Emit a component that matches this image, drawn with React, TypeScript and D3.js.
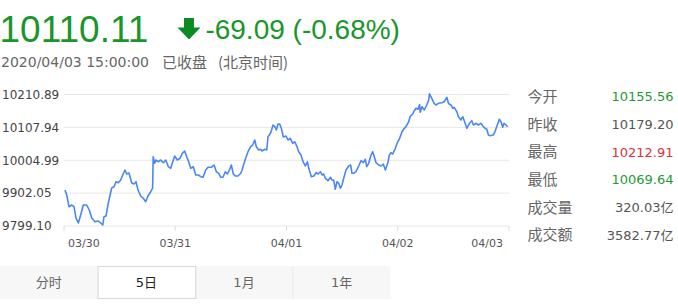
import React from "react";
import * as d3 from "d3";

// Intraday samples per session: [minute into session (0-240), index level]
const day0330: [number, number][] = [
  [2.7, 9911.8], [7.3, 9896.2], [13.5, 9859.5], [20.8, 9864.8], [27, 9859.5],
  [32.4, 9824.1], [38.6, 9808.5], [45, 9833.5], [52, 9864.8], [61.2, 9864.8],
  [68.2, 9849.2], [74.7, 9824.1], [83.6, 9812.6], [92.5, 9814.7], [99, 9808.5],
  [104.4, 9802.2], [107.9, 9828.2], [113.3, 9830.4], [119.5, 9871.1], [128.6, 9918.1],
  [134.9, 9922.2], [140.2, 9937.8], [146.4, 9934.7], [152.9, 9943.1], [158.3, 9958.8],
  [164.5, 9974.4], [169.1, 9961.9], [175.3, 9965.0], [182.6, 9933.7], [188.8, 9930.6],
  [194.2, 9937.8], [199.6, 9911.8], [206.9, 9893.0], [213.9, 9885.8], [220.4, 9875.2],
  [226.5, 9893.0], [233.8, 9906.5], [239, 9918.0],
];
const day0331: [number, number][] = [
  [0.5, 10016.1], [4.6, 9995.4], [7.3, 10005.8], [13.5, 10000.4], [20.8, 10005.8],
  [27.8, 9997.3], [34.3, 10005.8], [41.3, 9984.8], [47.7, 9979.8], [54.8, 10005.8],
  [58.5, 10018.3], [65.5, 10005.8], [72.8, 10011.1], [79, 10026.7], [85.5, 10033.9],
  [90.9, 10016.1], [95.2, 10003.6], [101.7, 9979.8], [108.7, 9984.8], [115.2, 9958.8],
  [122.2, 9958.8], [128.7, 9953.5], [134.9, 9951.6], [142.2, 9974.4], [148.4, 9982.9],
  [157.3, 9982.9], [164.6, 9990.1], [170.8, 9969.1], [177.3, 9964.1], [182.7, 9951.6],
  [188.8, 9951.6], [195, 9969.1], [200.4, 9961.9], [206.9, 9976.6], [211.2, 9990.1],
  [216.6, 9961.9], [222, 9955.7], [229.3, 9955.7], [236.5, 9964.1], [239.5, 9972.0],
];
const day0401: [number, number][] = [
  [2.7, 9984.8], [8.9, 10008.0], [16.2, 10031.8], [23.5, 10047.4], [28.9, 10052.7],
  [34.3, 10068.4], [38.6, 10047.4], [45.1, 10037.1], [50.5, 10039.3], [54, 10033.9],
  [61.3, 10039.3], [66.7, 10037.1], [70.2, 10078.7], [77.5, 10091.3], [83.7, 10115.4],
  [88.3, 10110.1], [92.6, 10099.7], [97.1, 10118.5], [101.7, 10118.5], [106, 10105.0],
  [111.4, 10077.8], [118.7, 10080.9], [124.1, 10068.4], [130.3, 10073.7], [136.8, 10058.0],
  [142.2, 10063.0], [148.4, 10047.4], [153, 10031.8], [159.2, 10021.4], [164.6, 10000.4],
  [170.8, 9987.0], [176.2, 10000.4], [180, 9979.8], [187, 9953.5], [193.5, 9955.7],
  [199.7, 9966.0], [205.1, 9961.9], [211.3, 9969.1], [215.8, 9958.8], [220.4, 9961.9],
  [224.7, 9948.4], [232, 9940.9], [238.2, 9951.6],
];
const day0402: [number, number][] = [
  [2.7, 9943.1], [7.3, 9943.1], [11.6, 9914.0], [16.2, 9937.8], [20.8, 9932.8],
  [25.1, 9917.1], [29.7, 9927.5], [34.2, 9948.4], [40.5, 9974.4], [47.7, 9987.0],
  [53.1, 9990.1], [56.6, 9964.1], [61.2, 9964.1], [67.4, 9969.1], [74.7, 9987.0],
  [80.9, 10003.6], [87.1, 9997.3], [92.5, 10008.0], [96.3, 9984.8], [101.7, 9995.4],
  [107.9, 10021.4], [112.5, 10031.8], [116.8, 10016.1], [121.4, 9997.3], [128.6, 9990.1],
  [134.9, 9987.0], [141.1, 9993.2], [146.5, 9974.4], [153, 9995.4], [157.3, 10021.4],
  [161.8, 10028.6], [166.4, 10024.5], [173.4, 10042.4], [179.9, 10063.1], [184.2, 10070.6],
  [191.5, 10094.4], [197.7, 10105.0], [202.3, 10110.1], [209.6, 10125.7], [213.1, 10141.3],
  [220.4, 10149.8], [224.7, 10160.1], [229.3, 10167.7], [234.7, 10164.5], [239, 10179.2],
];
const day0403: [number, number][] = [
  [0.5, 10155.56], [5.4, 10172.7], [11.6, 10162.3], [18.1, 10178.0], [23.5, 10193.6],
  [25.6, 10212.91], [31.8, 10199.0], [38, 10183.3], [43.2, 10178.0], [49.7, 10183.3],
  [58.9, 10185.2], [65.1, 10188.3], [72.4, 10202.1], [76.7, 10183.3], [83.2, 10178.0],
  [88.6, 10167.7], [92.1, 10170.8], [99.4, 10157.0], [103.7, 10141.3], [110.2, 10131.0],
  [115.5, 10141.3], [121.7, 10120.7], [126.3, 10105.0], [133.3, 10120.7], [139.8, 10128.8],
  [144.1, 10115.4], [151.4, 10120.7], [157.6, 10115.4], [164.1, 10120.7], [169.5, 10112.2],
  [175.6, 10105.0], [180.2, 10101.9], [184.5, 10084.0], [189.5, 10082.0], [197.6, 10084.0],
  [202.2, 10094.4], [208.4, 10115.4], [213.8, 10133.2], [218.4, 10125.7], [223, 10108.2],
  [226.5, 10120.7], [231.9, 10115.4], [236, 10110.11],
];

const sessions = [day0330, day0331, day0401, day0402, day0403];
const sessionMinutes = 240;

const yTicks = [9799.1, 9902.05, 10004.99, 10107.94, 10210.89];
const xTickLabels = ["03/30", "03/31", "04/01", "04/02", "04/03"];

const lastPrice = "10110.11";
const changeText = "-69.09 (-0.68%)";
const timeStamp = "2020/04/03 15:00:00";

const statLabels = ["今开", "昨收", "最高", "最低", "成交量", "成交额"];
const statValues = ["10155.56", "10179.20", "10212.91", "10069.64", "320.03亿", "3582.77亿"];
const statColors = ["#1e9a34", "#555555", "#d9333b", "#1e9a34", "#555555", "#555555"];

const tabs = ["分时", "5日", "1月", "1年"];
const activeTab = 1;

const NUM_FONT = "'DejaVu Sans', 'Noto Sans CJK SC', sans-serif";
const CJK_FONT = "'Noto Sans CJK SC', 'DejaVu Sans', sans-serif";
const GREEN = "#19962b";

export default function App() {
  const width = 678;
  const height = 308;
  const plot = { left: 64, right: 509, top: 94.5, bottom: 226 };

  const points = sessions.flatMap((s, i) =>
    s.map(([m, v]) => ({ t: i * sessionMinutes + m, v }))
  );
  const totalMinutes = sessions.length * sessionMinutes;

  const x = d3.scaleLinear().domain([0, totalMinutes]).range([plot.left, plot.right]);
  const y = d3
    .scaleLinear()
    .domain([yTicks[0], yTicks[yTicks.length - 1]])
    .range([plot.bottom, plot.top]);

  const linePath =
    d3
      .line<{ t: number; v: number }>()
      .x((d) => x(d.t))
      .y((d) => y(d.v))(points) ?? "";

  const tickStep = totalMinutes / (xTickLabels.length - 1);

  const statTop = 96.7;
  const statStep = 27.65;

  const tabW = 97.6;
  const tabY = 266;
  const tabH = 33;

  return (
    <svg
      width={width}
      height={height}
      style={{ position: "absolute", left: 0, top: 0, background: "#fff" }}
    >
      {/* header */}
      <text x={-0.5} y={41.7} fontFamily="'Liberation Sans', Arial, sans-serif" fontSize={37} fill={GREEN}>
        {lastPrice}
      </text>
      <path d="M184,18 H194 V27.5 H200.5 L189,39.5 L177.5,27.5 H184 Z" fill="#0d8a22" />
      <text x={205.4} y={38.5} fontFamily="'Liberation Sans', Arial, sans-serif" fontSize={28} fill={GREEN}>
        {changeText}
      </text>
      <text x={1} y={67} fontFamily={NUM_FONT} fontSize={14} fill="#666">
        {timeStamp}
      </text>
      <text x={162} y={67.5} fontFamily={CJK_FONT} fontSize={15} fill="#666">
        已收盘
      </text>
      <text x={218} y={67.5} fontFamily={CJK_FONT} fontSize={15} fill="#666">
        (北京时间)
      </text>

      {/* grid and y labels */}
      {yTicks.map((v) => (
        <g key={v}>
          <line x1={plot.left} x2={plot.right} y1={y(v)} y2={y(v)} stroke="#e6e6e6" strokeWidth={1} />
          <text x={2} y={y(v)} dy="0.36em" fontFamily={NUM_FONT} fontSize={12} fill="#444">
            {v.toFixed(2)}
          </text>
        </g>
      ))}

      {/* x ticks */}
      {xTickLabels.map((lab, i) => {
        const px = x(i * tickStep);
        const first = i === 0;
        const last = i === xTickLabels.length - 1;
        return (
          <g key={lab}>
            <line x1={px} x2={px} y1={plot.bottom} y2={plot.bottom + 5} stroke="#dcdcdc" />
            <text
              x={first ? px + 4 : last ? px - 6 : px}
              y={247.3}
              textAnchor={first ? "start" : last ? "end" : "middle"}
              fontFamily={NUM_FONT}
              fontSize={11}
              fill="#555"
            >
              {lab}
            </text>
          </g>
        );
      })}

      {/* price line */}
      <path d={linePath} fill="none" stroke="#4a88f0" strokeWidth={1.6} strokeLinejoin="round" />

      {/* stats panel */}
      {statLabels.map((lab, i) => {
        const cy = statTop + i * statStep;
        return (
          <g key={lab}>
            <text x={527.5} y={cy} dy="0.36em" fontFamily={CJK_FONT} fontSize={15} fill="#666">
              {lab}
            </text>
            <text
              x={673.5}
              y={cy}
              dy="0.36em"
              textAnchor="end"
              fontFamily={NUM_FONT}
              fontSize={13}
              fill={statColors[i]}
            >
              {statValues[i]}
            </text>
          </g>
        );
      })}

      {/* range tabs */}
      <rect x={0} y={tabY} width={tabW * tabs.length} height={tabH} fill="#f7f7f7" />
      <line x1={tabW * 3} x2={tabW * 3} y1={tabY} y2={tabY + tabH} stroke="#ececec" />
      <line x1={tabW * 2} x2={tabW * 2} y1={tabY} y2={tabY + tabH} stroke="#ececec" />
      <rect
        x={tabW * activeTab + 0.5}
        y={tabY + 0.5}
        width={tabW}
        height={tabH - 1}
        fill="#fff"
        stroke="#d6d6d6"
      />
      {tabs.map((t, i) => (
        <text
          key={t}
          x={tabW * i + tabW / 2}
          y={tabY + tabH / 2}
          dy="0.36em"
          textAnchor="middle"
          fontFamily={NUM_FONT}
          fontSize={13}
          fill={i === activeTab ? "#222" : "#666"}
        >
          {t}
        </text>
      ))}
    </svg>
  );
}
